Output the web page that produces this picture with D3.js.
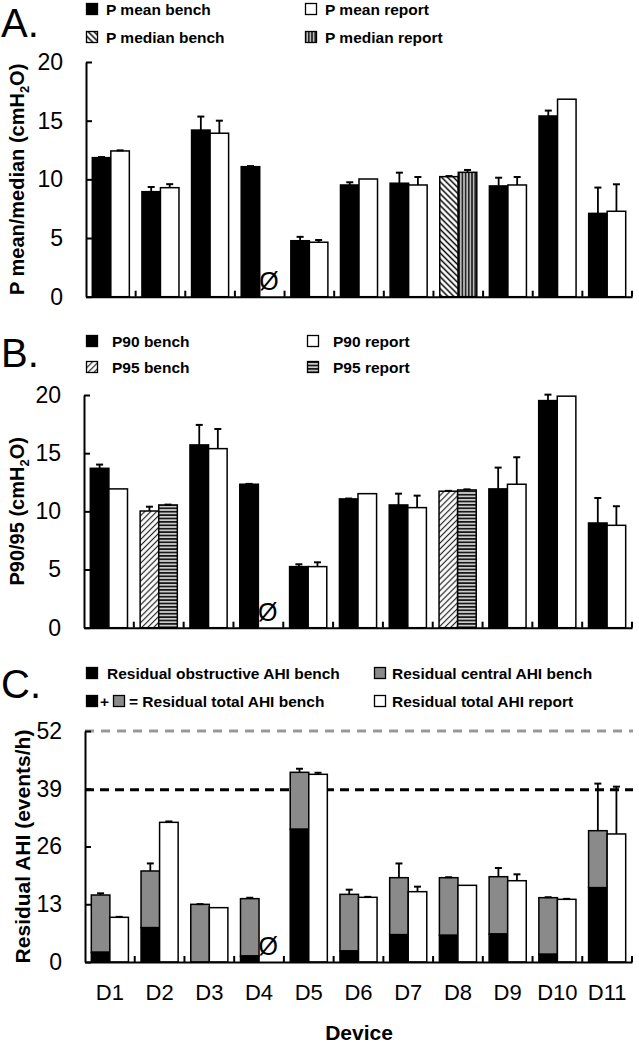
<!DOCTYPE html>
<html><head><meta charset="utf-8">
<script src="https://cdn.jsdelivr.net/npm/d3@7"></script>
<style>
body{margin:0;background:#fff}
svg{display:block}
text{font-family:"Liberation Sans",Arial,sans-serif;fill:#000}
</style>
</head><body>
<svg id="chart" width="639" height="1048"></svg>
<script>
// ---------- DATA ----------
const devices = ["D1","D2","D3","D4","D5","D6","D7","D8","D9","D10","D11"];

// Panel A: P mean / median (cmH2O)
const aBench     = [11.85, 8.95, 14.2, 11.08, 4.77, 9.52, 9.67, 10.23, 9.44, 15.4, 7.1];
const aBenchErr  = [0.05, 0.4, 1.15, 0.05, 0.33, 0.23, 0.9, 0.05, 0.7, 0.46, 2.2];
const aReport    = [12.42, 9.29, 13.93, null, 4.64, 10.03, 9.52, 10.6, 9.52, 16.83, 7.28];
const aReportErr = [0.05, 0.3, 1.07, null, 0.19, 0, 0.68, 0.2, 0.68, 0, 2.3];
const aKind      = ["mean","mean","mean","mean","mean","mean","mean","median","mean","mean","mean"];
const aTicks     = [0, 5, 10, 15, 20];
const aLegend    = ["P mean bench", "P mean report", "P median bench", "P median report"];

// Panel B: P90 / P95 (cmH2O)
const bBench     = [13.7, 10.03, 15.71, 12.33, 5.25, 11.07, 10.55, 11.73, 11.93, 19.52, 9.0];
const bBenchErr  = [0.32, 0.37, 1.72, 0.03, 0.2, 0.03, 0.97, 0.03, 1.83, 0.51, 2.15];
const bReport    = [11.93, 10.55, 15.39, null, 5.25, 11.52, 10.32, 11.84, 12.33, 19.9, 8.8];
const bReportErr = [0, 0.03, 1.69, null, 0.37, 0, 1.03, 0.05, 2.32, 0, 1.64];
const bKind      = ["P90","P95","P90","P90","P90","P90","P90","P95","P90","P90","P90"];
const bTicks     = [0, 5, 10, 15, 20];
const bLegend    = ["P90 bench", "P90 report", "P95 bench", "P95 report"];

// Panel C: Residual AHI (events/h)
const cObstructive = [2.18, 7.73, 0, 1.35, 29.87, 2.48, 6.15, 6.0, 6.3, 1.73, 16.73];
const cCentral     = [12.9, 12.76, 12.98, 12.91, 12.83, 12.75, 12.83, 12.98, 12.9, 12.75, 12.83];
const cBenchErr    = [0.38, 1.7, 0.05, 0.2, 0.8, 1.05, 3.2, 0.1, 1.96, 0.1, 10.6];
const cReport      = [10.06, 31.44, 12.23, null, 42.25, 14.56, 15.83, 17.26, 18.3, 14.11, 28.82];
const cReportErr   = [0.1, 0.2, 0, null, 0.35, 0.1, 1.13, 0, 1.44, 0.1, 10.65];
const cTicks       = [0, 13, 26, 39, 52];
const cThresholds  = [52, 38.8];
const cLegend      = ["Residual obstructive AHI bench", "Residual central AHI bench",
                      "= Residual total AHI bench", "Residual total AHI report"];

// ---------- DRAWING ----------
const svg = d3.select("#chart");
const FONT = '"Liberation Sans",Arial,sans-serif';
const defs = svg.append("defs");

function stripePattern(id, size, rotate, bg, lineColor, lw) {
  const p = defs.append("pattern").attr("id", id).attr("patternUnits", "userSpaceOnUse")
    .attr("width", size).attr("height", size);
  if (rotate) p.attr("patternTransform", `rotate(${rotate})`);
  p.append("rect").attr("width", size).attr("height", size).attr("fill", bg);
  p.append("line").attr("x1", size/2).attr("x2", size/2).attr("y1", 0).attr("y2", size)
    .attr("stroke", lineColor).attr("stroke-width", lw);
}
stripePattern("medBench", 4.2, -45, "#fff", "#000", 1.5);   // \\\\
stripePattern("medReport", 3.2, 0, "#bbb", "#000", 1.3);    // ||||
stripePattern("p95Bench", 4.2, 45, "#fff", "#222", 1.2);    // ////
stripePattern("p95Report", 3.4, 90, "#ccc", "#000", 1.5);   // ====

function panel(cfg) {
  const g = svg.append("g");
  const x = d3.scaleBand().domain(devices).range([cfg.axisX, cfg.right]);
  const sub = d3.scaleBand().domain(["bench","report"]).range([0, x.bandwidth()]).paddingOuter(0.34);
  const y = d3.scaleLinear().domain([0, cfg.yMax]).range([cfg.bottom, cfg.top]);
  const bw = sub.bandwidth();

  // threshold lines (behind bars)
  (cfg.thresholds || []).forEach((t, i) => {
    g.append("line").attr("x1", cfg.axisX).attr("x2", cfg.right + 1)
      .attr("y1", y(t)).attr("y2", y(t))
      .attr("stroke", i === 0 ? "#999" : "#000").attr("stroke-width", 3)
      .attr("stroke-dasharray", i === 0 ? "9,7" : "9,6");
  });

  // bench bars
  devices.forEach((d, i) => {
    const bx = x(d) + sub("bench");
    if (cfg.stackLow) {
      const low = cfg.stackLow[i], high = cfg.stackHigh[i];
      g.append("rect").attr("x", bx).attr("width", bw)
        .attr("y", y(low + high)).attr("height", y(low) - y(low + high))
        .attr("fill", "#8a8a8a").attr("stroke", "#000").attr("stroke-width", 1.5);
      if (low > 0) g.append("rect").attr("x", bx).attr("width", bw)
        .attr("y", y(low)).attr("height", y(0) - y(low))
        .attr("fill", "#000").attr("stroke", "#000").attr("stroke-width", 1.5);
    } else {
      const v = cfg.bench[i];
      g.append("rect").attr("x", bx).attr("width", bw)
        .attr("y", y(v)).attr("height", y(0) - y(v))
        .attr("fill", cfg.benchFill(i)).attr("stroke", "#000").attr("stroke-width", 1.5);
    }
  });
  // report bars
  devices.forEach((d, i) => {
    const v = cfg.report[i];
    const rx = x(d) + sub("report");
    if (v == null) {
      g.append("text").attr("x", rx + bw/2).attr("y", cfg.bottom - 7)
        .attr("text-anchor", "middle").attr("font-size", 25).text("Ø");
      return;
    }
    g.append("rect").attr("x", rx).attr("width", bw)
      .attr("y", y(v)).attr("height", y(0) - y(v))
      .attr("fill", cfg.reportFill(i)).attr("stroke", "#000").attr("stroke-width", 1.5);
  });
  // error bars
  function errBar(cx, top, e) {
    if (e == null || e <= 0) return;
    g.append("line").attr("x1", cx).attr("x2", cx).attr("y1", y(top)).attr("y2", y(top + e))
      .attr("stroke", "#000").attr("stroke-width", 1.8);
    g.append("line").attr("x1", cx - 3.5).attr("x2", cx + 3.5).attr("y1", y(top + e)).attr("y2", y(top + e))
      .attr("stroke", "#000").attr("stroke-width", 2);
  }
  devices.forEach((d, i) => {
    const bTop = cfg.stackLow ? cfg.stackLow[i] + cfg.stackHigh[i] : cfg.bench[i];
    errBar(x(d) + sub("bench") + bw/2, bTop, cfg.benchErr[i]);
    if (cfg.report[i] != null) errBar(x(d) + sub("report") + bw/2, cfg.report[i], cfg.reportErr[i]);
  });

  // y axis
  const ya = g.append("g").attr("transform", `translate(${cfg.axisX},0)`)
    .call(d3.axisLeft(y).tickValues(cfg.ticks).tickSizeInner(-6).tickSizeOuter(0).tickPadding(23));
  ya.selectAll("text").attr("font-size", 23).attr("font-family", FONT).attr("fill", "#000");
  ya.selectAll("path,line").attr("stroke", "#000").attr("stroke-width", 2);

  // x axis
  const xa = g.append("g").attr("transform", `translate(0,${cfg.bottom})`)
    .call(d3.axisBottom(x).tickSize(0).tickSizeOuter(0).tickPadding(22).tickFormat(cfg.xLabels ? d => d : () => ""));
  xa.selectAll("text").attr("font-size", 22).attr("font-family", FONT).attr("fill", "#000");
  xa.select("path").attr("stroke", "#000").attr("stroke-width", 2);
  // category boundary ticks (upward)
  const bounds = devices.slice(1).map(d => x(d)).concat([x.range()[1]]);
  g.selectAll(null).data(bounds).enter().append("line")
    .attr("x1", d => d).attr("x2", d => d).attr("y1", cfg.bottom).attr("y2", cfg.bottom - 6)
    .attr("stroke", "#000").attr("stroke-width", 2);

  // y title
  const t = g.append("text").attr("transform", `translate(${cfg.titleX},${(cfg.top + cfg.bottom)/2}) rotate(-90)`)
    .attr("text-anchor", "middle").attr("font-size", cfg.titleSize)
    .attr("font-weight", cfg.titleBold ? "bold" : "normal");
  cfg.title.forEach(seg => {
    const ts = t.append("tspan").text(seg.t);
    if (seg.sub) ts.attr("font-size", cfg.titleSize * 0.65).attr("dy", 5);
    if (seg.after) ts.attr("dy", -5);
  });

  // panel letter
  svg.append("text").attr("x", 1).attr("y", cfg.letterY).attr("font-size", 40).text(cfg.letter);
}

function legendSquare(x0, y0, fill) {
  svg.append("rect").attr("x", x0).attr("y", y0).attr("width", 11).attr("height", 11)
    .attr("fill", fill).attr("stroke", "#000").attr("stroke-width", 1.3);
}
function legendText(x0, y0, s) {
  svg.append("text").attr("x", x0).attr("y", y0).attr("font-size", 15.5).attr("font-weight", "bold").text(s);
}

// Panel A
panel({
  letter: "A.", letterY: 36.5, axisX: 86, right: 632, top: 62, bottom: 296.7, yMax: 20, ticks: aTicks,
  bench: aBench, benchErr: aBenchErr, report: aReport, reportErr: aReportErr,
  benchFill: i => aKind[i] === "median" ? "url(#medBench)" : "#000",
  reportFill: i => aKind[i] === "median" ? "url(#medReport)" : "#fff",
  title: [{t:"P mean/median (cmH"},{t:"2",sub:true},{t:"O)",after:true}],
  titleX: 24, titleSize: 20, titleBold: true
});
legendSquare(86.5, 3.5, "#000"); legendText(106, 15, aLegend[0]);
legendSquare(305.5, 3.5, "#fff"); legendText(325, 15, aLegend[1]);
legendSquare(86.5, 31.5, "url(#medBench)"); legendText(106, 43, aLegend[2]);
legendSquare(305.5, 31.5, "url(#medReport)"); legendText(325, 43, aLegend[3]);

// Panel B
panel({
  letter: "B.", letterY: 367, axisX: 84, right: 632, top: 395, bottom: 627.7, yMax: 20, ticks: bTicks,
  bench: bBench, benchErr: bBenchErr, report: bReport, reportErr: bReportErr,
  benchFill: i => bKind[i] === "P95" ? "url(#p95Bench)" : "#000",
  reportFill: i => bKind[i] === "P95" ? "url(#p95Report)" : "#fff",
  title: [{t:"P90/95 (cmH"},{t:"2",sub:true},{t:"O)",after:true}],
  titleX: 24, titleSize: 20, titleBold: true
});
legendSquare(86.5, 335.5, "#000"); legendText(112, 347, bLegend[0]);
legendSquare(307.5, 335.5, "#fff"); legendText(333, 347, bLegend[1]);
legendSquare(86.5, 361.5, "url(#p95Bench)"); legendText(112, 373, bLegend[2]);
legendSquare(307.5, 361.5, "url(#p95Report)"); legendText(333, 373, bLegend[3]);

// Panel C
panel({
  letter: "C.", letterY: 698, axisX: 85, right: 632, top: 731, bottom: 962, yMax: 52, ticks: cTicks,
  stackLow: cObstructive, stackHigh: cCentral, benchErr: cBenchErr,
  report: cReport, reportErr: cReportErr,
  reportFill: () => "#fff", thresholds: cThresholds, xLabels: true,
  title: [{t:"Residual AHI (events/h)"}],
  titleX: 30, titleSize: 21, titleBold: true
});
legendSquare(86.5, 667.5, "#000"); legendText(107, 679, cLegend[0]);
legendSquare(374.5, 667.5, "#8a8a8a"); legendText(392, 679, cLegend[1]);
legendSquare(86.5, 695.5, "#000");
svg.append("text").attr("x", 100).attr("y", 707).attr("font-size", 15.5).attr("font-weight", "bold").text("+");
legendSquare(113.5, 695.5, "#8a8a8a"); legendText(129, 707, cLegend[2]);
legendSquare(374.5, 695.5, "#fff"); legendText(392, 707, cLegend[3]);

// x axis title
svg.append("text").attr("x", 359).attr("y", 1040).attr("text-anchor", "middle")
  .attr("font-size", 21).attr("font-weight", "bold").text("Device");
</script>
</body></html>
